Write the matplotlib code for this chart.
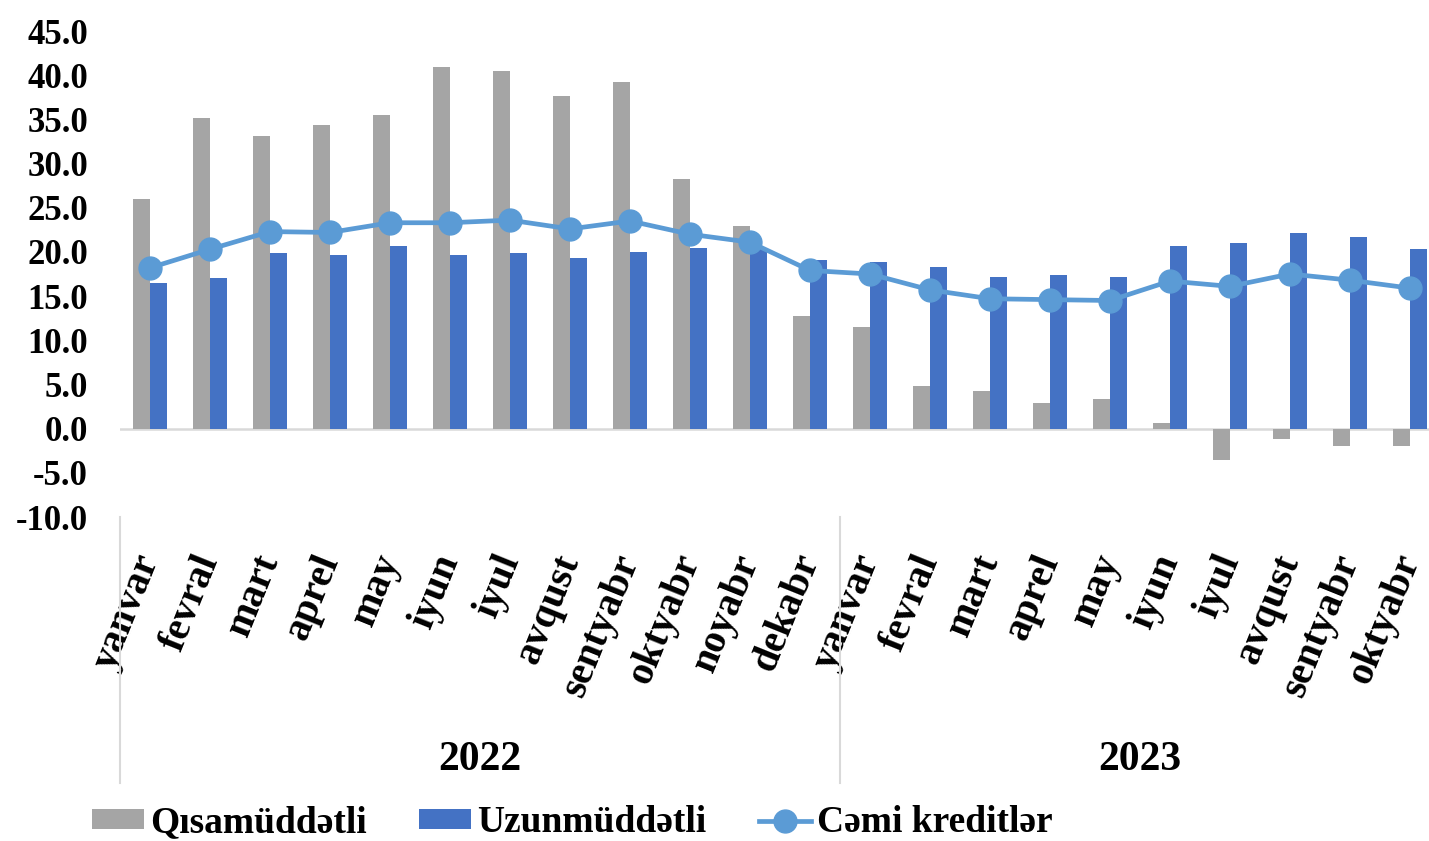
import matplotlib
matplotlib.use("Agg")
import matplotlib.pyplot as plt
import matplotlib.transforms as mtransforms
import numpy as np

months = ["yanvar", "fevral", "mart", "aprel", "may", "iyun", "iyul", "avqust",
          "sentyabr", "oktyabr", "noyabr", "dekabr",
          "yanvar", "fevral", "mart", "aprel", "may", "iyun", "iyul", "avqust",
          "sentyabr", "oktyabr"]
years = ["2022", "2023"]
year_sizes = [12, 10]

qisa = [26.0, 35.2, 33.1, 34.4, 35.5, 40.9, 40.5, 37.6, 39.2, 28.3, 22.9, 12.7,
        11.5, 4.8, 4.3, 2.9, 3.4, 0.6, -3.5, -1.2, -2.0, -2.0]
uzun = [16.5, 17.1, 19.9, 19.6, 20.7, 19.6, 19.9, 19.3, 20.0, 20.4, 20.4, 19.1,
        18.9, 18.3, 17.2, 17.4, 17.2, 20.7, 21.0, 22.1, 21.7, 20.3]
cemi = [18.2, 20.3, 22.3, 22.2, 23.3, 23.3, 23.6, 22.6, 23.5, 22.0, 21.1, 17.9,
        17.5, 15.7, 14.7, 14.6, 14.5, 16.7, 16.1, 17.5, 16.8, 15.9]

plt.rcParams['font.family'] = ['Liberation Serif', 'DejaVu Serif']
plt.rcParams['font.weight'] = 'bold'

fig = plt.figure(figsize=(14.29, 8.41), dpi=100)
ax = fig.add_axes([120 / 1429, (841 - 517) / 841, 1 - 120 / 1429, 486 / 841])

x = np.arange(len(months))
w = 0.283
b1 = ax.bar(x - w / 2, qisa, w, color="#A5A5A5", label="Qısamüddətli", zorder=2)
b2 = ax.bar(x + w / 2, uzun, w, color="#4472C4", label="Uzunmüddətli", zorder=2)
l1, = ax.plot(x, cemi, color="#5B9BD5", lw=3.4, marker="o", ms=16.5,
              label="Cəmi kreditlər", zorder=3)
ax.axhline(0, color="#D9D9D9", lw=1.8, zorder=1)

ax.set_xlim(-0.5, 21.317)
ax.set_ylim(-10, 45)
ax.set_yticks(np.arange(-10, 46, 5))
ax.set_yticklabels([f"{v:.1f}" for v in np.arange(-10, 46, 5)], fontsize=25)
ax.tick_params(axis="y", length=0, pad=23)

ax.set_xticks(x)
ax.set_xticklabels(months, fontsize=29, rotation=68, ha="right", va="center",
                   rotation_mode="anchor")
ax.tick_params(axis="x", length=0, pad=28)

for s in ax.spines.values():
    s.set_visible(False)

# category group separators and year labels
trans = mtransforms.blended_transform_factory(ax.transData, ax.transAxes)
start = 0
for yr, n in zip(years, year_sizes):
    ax.plot([start - 0.5, start - 0.5], [0, -0.547], color="#D9D9D9", lw=1.5,
            transform=trans, clip_on=False)
    ax.text(start + n / 2 - 0.5, -0.5, yr, transform=trans, ha="center",
            va="center", fontsize=30)
    start += n
ax.plot([start - 0.5, start - 0.5], [0, -0.547], color="#D9D9D9", lw=1.5,
        transform=trans, clip_on=False)

fig.legend(handles=[b1, b2, l1], loc="center",
           bbox_to_anchor=(572 / 1429, (841 - 823) / 841),
           ncol=3, frameon=False, fontsize=27, handlelength=1.4,
           handleheight=0.45, handletextpad=0.15, columnspacing=1.4)

fig.savefig("out.png", dpi=100)
